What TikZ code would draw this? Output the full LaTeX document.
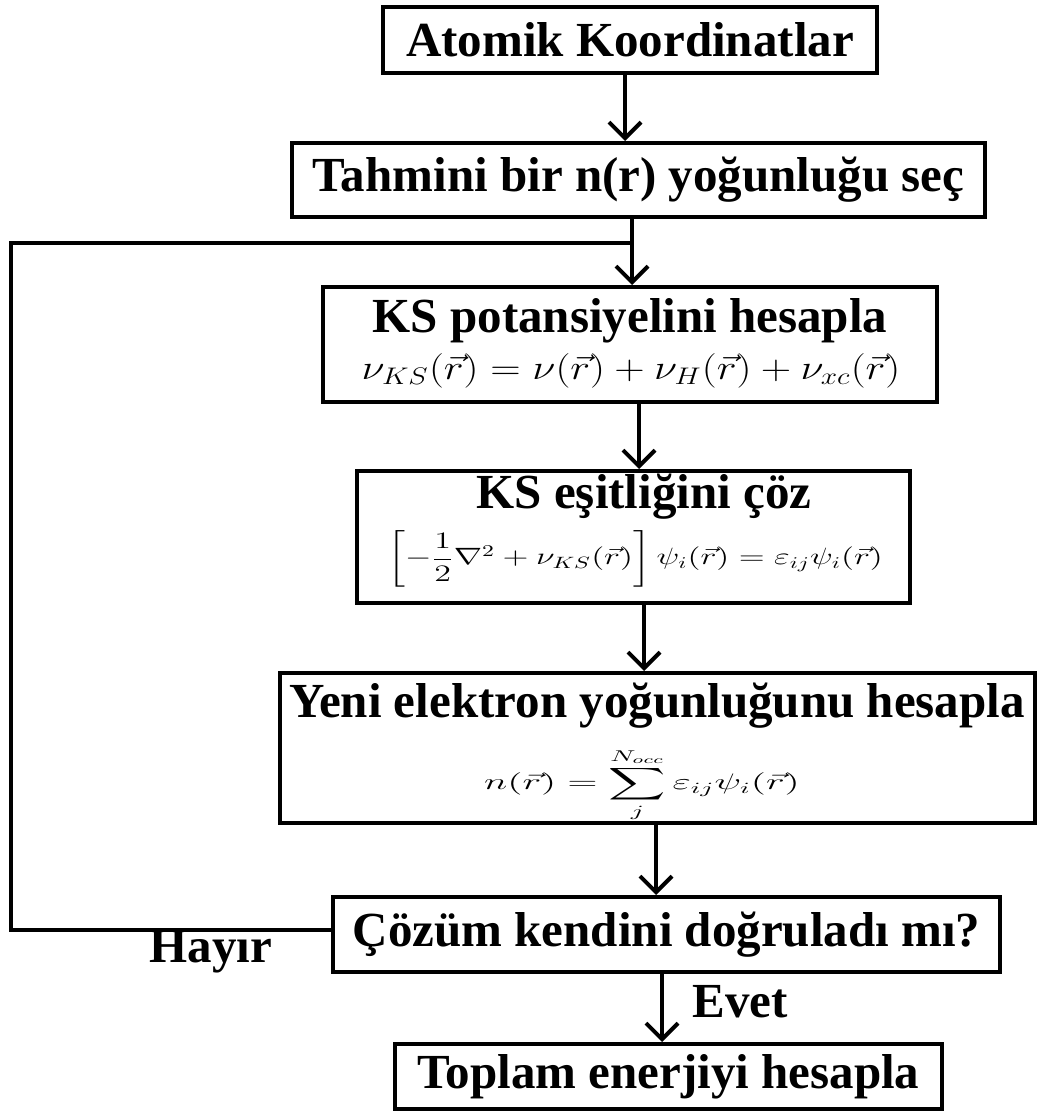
\documentclass[tikz,border=0pt]{standalone}
\usepackage{amsmath}
\usepackage{fontspec}
\setmainfont{Liberation Serif}
\usepackage{graphicx}
\usetikzlibrary{arrows.meta, positioning}

\tikzset{
  box/.style={draw, line width=2pt, inner sep=0pt, font=\fontsize{24.5}{27}\selectfont\bfseries},
  line/.style={line width=2pt},
  flow/.style={line, -{Straight Barb[length=8pt, width=16pt, line width=2pt]}},
  lbl/.style={inner sep=0pt, anchor=base, font=\fontsize{24.5}{27}\selectfont\bfseries},
  eqn/.style={inner sep=0pt},
}

\begin{document}
\begin{tikzpicture}[x=0.5pt, y=-0.5pt]
  \useasboundingbox (0,0) rectangle (1039,1111);
  % steps of the loop
  \node[box, minimum width=247pt, minimum height=33pt] (atom) at (630,40) {Atomik Koordinatlar};
  \node[box, minimum width=346.5pt, minimum height=37pt] (guess) at (638.5,180) {Tahmini bir n(r) yoğunluğu seç};
  \node[box, minimum width=307pt, minimum height=57.5pt] (pot) at (630,344.5) {};
  \node[lbl] (pottxt) at (630,333) {KS potansiyelini hesapla};
  \node[eqn, font=\fontsize{17}{20}\selectfont] (poteq) at (631,371) {\scalebox{1.22}[1]{$\nu_{KS}(\vec{r})=\nu(\vec{r})+\nu_{H}(\vec{r})+\nu_{xc}(\vec{r})$}};
  \node[box, minimum width=276.5pt, minimum height=66pt] (solve) at (633.5,537) {};
  \node[lbl] (solvetxt) at (644,508) {KS eşitliğini çöz};
  \node[eqn, font=\fontsize{14.5}{17}\selectfont] (solveeq) at (635,559) {\scalebox{1.18}[0.82]{$\left[-\dfrac{1}{2}\nabla^{2}+\nu_{KS}(\vec{r})\right]\psi_{i}(\vec{r})=\varepsilon_{ij}\psi_{i}(\vec{r})$}};
  \node[box, minimum width=377.5pt, minimum height=75pt] (dens) at (657.5,748) {};
  \node[lbl] (denstxt) at (657,717) {Yeni elektron yoğunluğunu hesapla};
  \node[eqn, font=\fontsize{14}{17}\selectfont] (denseq) at (642,785) {\scalebox{1.38}[0.78]{$n(\vec{r})=\displaystyle\sum_{j}^{N_{occ}}\varepsilon_{ij}\psi_{i}(\vec{r})$}};
  \node[box, minimum width=333.5pt, minimum height=37.5pt] (check) at (666.5,934.5) {Çözüm kendini doğruladı mı?};
  \node[box, minimum width=273.5pt, minimum height=32.5pt] (total) at (668.5,1076.5) {Toplam enerjiyi hesapla};
  % answers
  \node[lbl] (no) at (211,962) {Hayır};
  \node[lbl] (yes) at (740,1017) {Evet};
  % arrows
  \draw[flow] (625,0 |- atom.south) -- (625,0 |- guess.north);
  \draw[flow] (632,0 |- guess.south) -- (632,0 |- pot.north);
  \draw[flow] (639,0 |- pot.south) -- (639,0 |- solve.north);
  \draw[flow] (644,0 |- solve.south) -- (644,0 |- dens.north);
  \draw[flow] (656,0 |- dens.south) -- (656,0 |- check.north);
  \draw[flow] (662,0 |- check.south) -- (662,0 |- total.north);
  % back to the potential
  \draw[line] (0,930 -| check.west) -| (11,243) -- (632,243);
\end{tikzpicture}
\end{document}
